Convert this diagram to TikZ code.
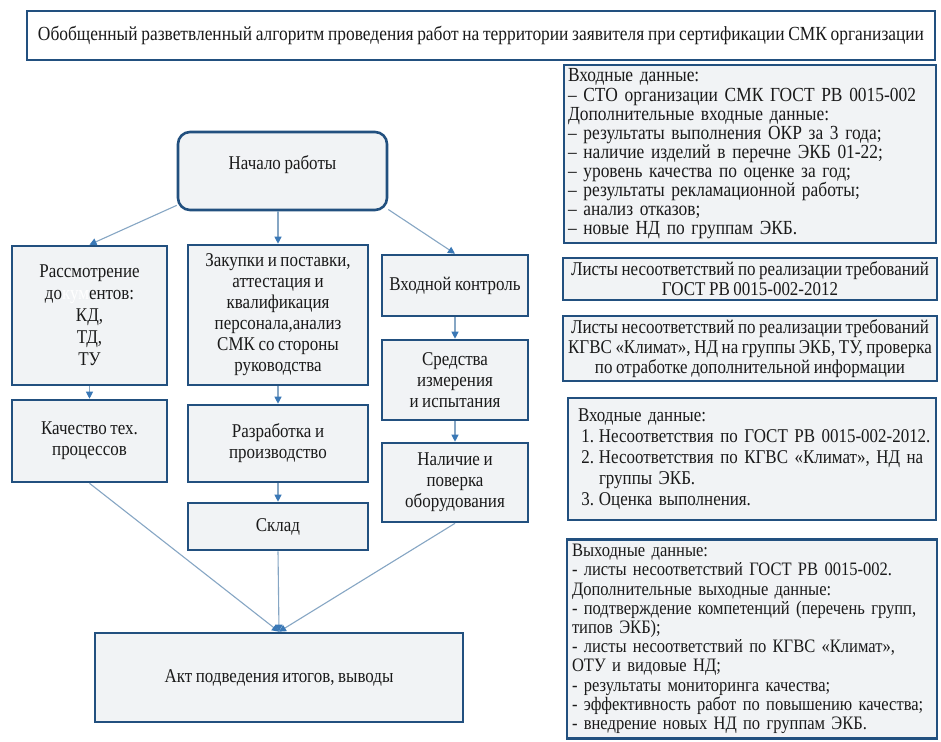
\documentclass[tikz,border=0pt]{standalone}
\usepackage{fontspec}
\setmainfont{Liberation Serif}[FakeStretch=0.87,WordSpace=0.85]
\usetikzlibrary{arrows.meta,calc}
\definecolor{bord}{HTML}{22507F}
\definecolor{boxfill}{HTML}{F1F3F5}
\definecolor{conn}{HTML}{86A6C4}
\definecolor{tip}{HTML}{3A78B6}
\definecolor{txt}{HTML}{1A1A1A}
\tikzset{
  box/.style={draw=bord, line width=2.6pt, fill=boxfill, inner sep=3pt, align=center, text=txt,
    font=\fontsize{19.5}{21}\selectfont},
  rbox/.style={box, align=left, inner sep=4pt},
  conn/.style={draw=conn, line width=1.1pt, -{Triangle[width=7pt,length=7pt,color=tip]}}
}
\begin{document}
\begin{tikzpicture}[x=1pt,y=-1pt]
\useasboundingbox[fill=white] (0,0) rectangle (941,741);
% title
\node[box, fill=white, minimum width=908pt, minimum height=49pt, font=\fontsize{20}{22}\selectfont] (title) at (481,35.5)
  {Обобщенный разветвленный алгоритм проведения работ на территории заявителя при сертификации СМК организации};
% left flow
\node[box, rounded corners=12pt, minimum width=209pt, minimum height=78pt] (start) at (282.5,171) {Начало работы\\[-4pt]};
\node[box, minimum width=155pt, minimum height=139pt, font=\fontsize{19.5}{22}\selectfont] (b1) at (89.5,315.5)
  {Рассмотрение\\до\textcolor{white}{кум}ентов:\\КД,\\ТД,\\ТУ};
\node[box, minimum width=180pt, minimum height=140pt, inner sep=1pt] (b2) at (278,315)
  {Закупки и поставки,\\аттестация и\\квалификация\\персонала,анализ\\СМК со стороны\\руководства};
\node[box, minimum width=146pt, minimum height=61pt, inner sep=1pt] (b3) at (455,285.5) {Входной контроль};
\node[box, minimum width=146pt, minimum height=80pt] (b4) at (455,380) {Средства\\измерения\\и испытания};
\node[box, minimum width=155pt, minimum height=82pt] (b5) at (89.5,441) {Качество тех.\\процессов};
\node[box, minimum width=180pt, minimum height=77pt] (b6) at (278,443.5) {Разработка и\\производство};
\node[box, minimum width=146pt, minimum height=79pt] (b7) at (455,482.5) {Наличие и\\поверка\\оборудования};
\node[box, minimum width=180pt, minimum height=47pt] (b8) at (278,526.5) {Склад};
\node[box, minimum width=368pt, minimum height=89pt] (b9) at (279,677.5) {Акт подведения итогов, выводы};
% right column
\node[rbox, text width=364pt, minimum height=176pt, font=\fontsize{20}{19.1}\selectfont] (r1) at (750,154)
  {Входные данные:\\
   – СТО организации СМК ГОСТ РВ 0015-002\\
   Дополнительные входные данные:\\
   – результаты выполнения ОКР за 3 года;\\
   – наличие изделий в перечне ЭКБ 01-22;\\
   – уровень качества по оценке за год;\\
   – результаты рекламационной работы;\\
   – анализ отказов;\\
   – новые НД по группам ЭКБ.};
\node[box, minimum width=374pt, minimum height=42pt, inner sep=1pt, font=\fontsize{19.5}{20}\selectfont] (r2) at (750,279)
  {Листы несоответствий по реализации требований\\ГОСТ РВ 0015-002-2012};
\node[box, minimum width=374pt, minimum height=65pt, inner sep=1pt, font=\fontsize{19.5}{20}\selectfont] (r3) at (750,348.5)
  {Листы несоответствий по реализации требований\\КГВС «Климат», НД на группы ЭКБ, ТУ, проверка\\по отработке дополнительной информации};
\node[rbox, text width=360pt, minimum height=122pt, font=\fontsize{19.5}{21}\selectfont] (r4) at (752,459)
  {\hspace*{6pt}Входные данные:\\
   \hspace*{4pt}\makebox[18pt][r]{1.}\hspace{5pt}Несоответствия по ГОСТ РВ 0015-002-2012.\\
   \hspace*{4pt}\makebox[18pt][r]{2.}\hspace{5pt}Несоответствия по КГВС «Климат», НД на\\
   \hspace*{27pt}группы ЭКБ.\\
   \hspace*{4pt}\makebox[18pt][r]{3.}\hspace{5pt}Оценка выполнения.};
\node[rbox, text width=360pt, minimum height=198pt, inner sep=5pt, font=\fontsize{19}{19.2}\selectfont] (r5) at (752,639)
  {Выходные данные:\\
   - листы несоответствий ГОСТ РВ 0015-002.\\
   Дополнительные выходные данные:\\
   - подтверждение компетенций (перечень групп,\\
   типов ЭКБ);\\
   - листы несоответствий по КГВС «Климат»,\\
   ОТУ и видовые НД;\\
   - результаты мониторинга качества;\\
   - эффективность работ по повышению качества;\\
   - внедрение новых НД по группам ЭКБ.};
% connectors
\draw[conn] (start.198) -- (b1.north);
\draw[conn] (b2.north |- start.south) -- (b2.north);
\draw[conn] (start.340) -- (b3.north);
\draw[conn] (b1.south) -- (b5.north);
\draw[conn] (b2.south) -- (b6.north);
\draw[conn] (b3.south) -- (b4.north);
\draw[conn] (b4.south) -- (b7.north);
\draw[conn] (b6.south) -- (b8.north);
\draw[conn] (b5.south) -- (b9.north);
\draw[conn] (b8.south) -- (b9.north);
\draw[conn] (b7.south) -- (b9.north);
\end{tikzpicture}
\end{document}
